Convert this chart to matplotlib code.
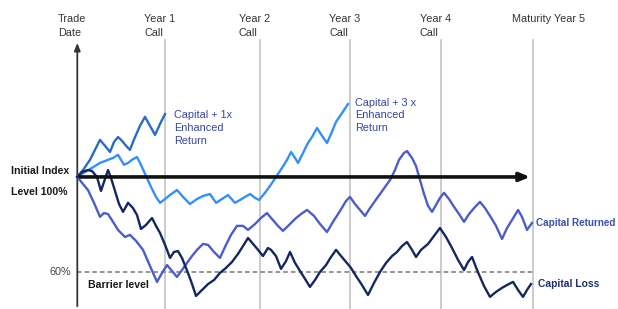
import numpy as np
import matplotlib.pyplot as plt

plt.rcParams['font.family'] = ['Liberation Sans', 'DejaVu Sans']

# time in years from trade date, index level in % of initial level
call_years = [0.963, 2.0, 2.995, 3.99, 5.0]
call_labels = ['Year 1\nCall', 'Year 2\nCall', 'Year 3\nCall', 'Year 4\nCall', 'Maturity Year 5']

# Capital + 1x enhanced return (called at year 1)
t_1x = [0, 0.063, 0.139, 0.194, 0.249, 0.304, 0.359, 0.403, 0.447, 0.491, 0.535,
        0.578, 0.611, 0.644, 0.688, 0.743, 0.798, 0.853, 0.908, 0.963]
lvl_1x = [100, 102.9, 107.2, 111.4, 115.6, 113.1, 110.5, 114.7, 116.8, 115.2, 113.1,
          111.4, 114.7, 117.7, 121.5, 125.3, 121.5, 117.7, 122.3, 126.5]

# Capital + 3x enhanced return (called at year 3)
t_3x = [0, 0.085, 0.161, 0.249, 0.337, 0.392, 0.447, 0.480, 0.513, 0.557, 0.600,
        0.655, 0.699, 0.754, 0.809, 0.864, 0.908, 0.963, 1.018, 1.094, 1.160,
        1.237, 1.314, 1.380, 1.457, 1.523, 1.588, 1.654, 1.731, 1.786, 1.841,
        1.896, 1.951, 1.995, 2.060, 2.115, 2.181, 2.247, 2.302, 2.346, 2.390,
        2.423, 2.478, 2.532, 2.576, 2.631, 2.686, 2.741, 2.785, 2.840, 2.906, 2.971]
lvl_3x = [100, 102.1, 103.8, 105.9, 107.2, 108.0, 109.3, 107.2, 105.1, 105.9, 107.2,
          108.4, 105.1, 100.4, 95.8, 91.6, 89.1, 90.7, 92.4, 94.5, 91.6,
          88.6, 90.7, 92.0, 92.8, 89.1, 90.7, 92.4, 89.1, 90.3, 91.6,
          92.8, 91.2, 90.3, 93.3, 96.2, 100.0, 103.8, 107.2, 110.5, 108.0,
          105.9, 110.1, 114.3, 116.8, 120.6, 117.3, 114.3, 118.1, 123.2, 126.9, 130.7]

# Capital returned at maturity
t_ret = [0, 0.052, 0.117, 0.183, 0.249, 0.293, 0.337, 0.392, 0.447, 0.524, 0.578,
         0.644, 0.721, 0.798, 0.875, 0.930, 0.985, 1.040, 1.094, 1.149, 1.204,
         1.259, 1.314, 1.380, 1.435, 1.501, 1.566, 1.632, 1.687, 1.753, 1.819,
         1.874, 1.951, 2.016, 2.082, 2.137, 2.203, 2.258, 2.335, 2.401, 2.456,
         2.521, 2.598, 2.664, 2.741, 2.807, 2.884, 2.950, 2.993, 3.048, 3.103,
         3.158, 3.213, 3.268, 3.323, 3.378, 3.433, 3.487, 3.531, 3.586, 3.619,
         3.674, 3.718, 3.762, 3.806, 3.850, 3.894, 3.937, 3.981, 4.025, 4.080,
         4.135, 4.190, 4.245, 4.300, 4.355, 4.420, 4.475, 4.530, 4.596, 4.662,
         4.717, 4.772, 4.838, 4.881, 4.936, 4.991]
lvl_ret = [100, 97.5, 94.5, 89.1, 83.2, 84.8, 84.4, 81.1, 77.7, 74.7, 75.6,
           73.1, 69.3, 62.5, 55.8, 59.6, 62.9, 60.4, 57.9, 60.8, 63.8,
           66.7, 69.3, 71.8, 71.4, 68.4, 65.9, 71.4, 75.6, 79.4, 79.4,
           77.7, 80.2, 82.7, 84.8, 82.3, 79.4, 77.3, 80.2, 82.7, 84.4,
           86.1, 83.6, 80.2, 76.8, 81.1, 85.7, 89.9, 91.6, 88.6, 86.1,
           83.6, 86.9, 89.9, 92.8, 95.8, 98.7, 102.9, 107.2, 110.1, 110.9,
           108.0, 104.6, 98.7, 92.8, 87.8, 85.3, 88.2, 91.2, 93.3, 90.7,
           87.4, 84.4, 81.1, 84.4, 86.9, 89.5, 86.9, 83.6, 79.4, 73.9,
           78.5, 81.9, 86.1, 83.2, 77.7, 80.6]

# Capital loss at maturity
t_loss = [0, 0.052, 0.117, 0.161, 0.216, 0.260, 0.293, 0.337, 0.370, 0.414, 0.458,
          0.502, 0.557, 0.611, 0.655, 0.699, 0.754, 0.820, 0.864, 0.908, 0.963,
          1.018, 1.061, 1.105, 1.149, 1.193, 1.248, 1.303, 1.369, 1.435, 1.501,
          1.566, 1.632, 1.698, 1.764, 1.819, 1.874, 1.929, 1.984, 2.038, 2.093,
          2.126, 2.181, 2.236, 2.291, 2.335, 2.390, 2.445, 2.499, 2.554, 2.609,
          2.664, 2.730, 2.785, 2.840, 2.895, 2.950, 3.004, 3.059, 3.125, 3.191,
          3.257, 3.323, 3.389, 3.455, 3.509, 3.564, 3.619, 3.674, 3.718, 3.773,
          3.850, 3.916, 3.981, 4.047, 4.113, 4.179, 4.245, 4.289, 4.333, 4.388,
          4.464, 4.530, 4.596, 4.662, 4.717, 4.783, 4.838, 4.892, 4.936, 4.980]
lvl_loss = [100, 102.1, 102.9, 102.5, 100.0, 94.1, 97.9, 102.9, 99.6, 94.1, 88.6,
            85.3, 89.1, 86.9, 84.0, 78.1, 79.8, 82.7, 79.4, 76.4, 71.4,
            65.9, 68.4, 68.8, 65.9, 61.7, 56.2, 49.9, 52.4, 54.9, 56.6,
            59.6, 61.7, 64.2, 67.6, 70.9, 74.3, 71.8, 69.3, 66.7, 70.1,
            69.3, 66.7, 61.3, 64.6, 68.4, 63.8, 60.4, 57.1, 53.7, 56.6,
            60.0, 62.9, 66.3, 69.3, 66.7, 64.2, 61.7, 58.3, 54.5, 50.3,
            55.4, 60.0, 63.8, 66.7, 68.4, 70.9, 72.6, 69.3, 66.3, 69.3,
            71.8, 75.2, 78.5, 74.7, 70.1, 65.1, 60.8, 64.2, 66.3, 60.8,
            54.1, 49.5, 51.6, 53.3, 54.5, 55.8, 52.4, 49.5, 52.4, 54.9]

initial_level = 100
barrier = 60

fig = plt.figure(figsize=(6.18, 3.09), dpi=100)
ax = fig.add_axes([0, 0, 1, 1])
ax.set_xlim(-0.8485, 5.935)
ax.set_ylim(44.4, 174.5)
ax.axis('off')

# call date lines
for t in call_years:
    ax.plot([t, t], [44.4, 157.5], color='#c8c8c8', lw=1.3, zorder=1)
for t, lab in zip(call_years, call_labels):
    ax.text(t - 0.23, 168.8, lab, fontsize=7.8, color='#333333', ha='left', va='top',
            linespacing=1.5)
ax.text(-0.21, 168.5, 'Trade\nDate', fontsize=7.8, color='#333333', ha='left', va='top',
        linespacing=1.5)

# axes arrows
ax.annotate('', xy=(0, 157.6), xytext=(0, 44.4),
            arrowprops=dict(arrowstyle='-|>,head_width=0.18,head_length=0.45',
                            color='#333333', lw=1.3))
ax.annotate('', xy=(5.0, initial_level), xytext=(0, initial_level),
            arrowprops=dict(arrowstyle='-|>,head_width=0.25,head_length=0.6',
                            color='#111111', lw=2.6), zorder=5)

# barrier
ax.plot([0, 5.0], [barrier, barrier], color='#777777', lw=1.1, ls=(0, (3, 2)), zorder=2)

ax.plot(t_1x, lvl_1x, color='#2a6cc4', lw=1.7, zorder=4)
ax.plot(t_3x, lvl_3x, color='#3390f5', lw=1.7, zorder=4)
ax.plot(t_ret, lvl_ret, color='#4b5dc8', lw=1.7, zorder=4)
ax.plot(t_loss, lvl_loss, color='#14285f', lw=1.7, zorder=4)

ax.text(1.06, 120.6, 'Capital + 1x\nEnhanced\nReturn', fontsize=7.8, color='#34469a',
        ha='left', va='center', linespacing=1.35)
ax.text(3.05, 125.9, 'Capital + 3 x\nEnhanced\nReturn', fontsize=7.8, color='#34469a',
        ha='left', va='center', linespacing=1.35)
ax.text(5.04, 80.6, 'Capital Returned', fontsize=7.1, color='#3c4fb0', fontweight='bold',
        ha='left', va='center')
ax.text(5.06, 54.9, 'Capital Loss', fontsize=7.4, color='#1e2f6e', fontweight='bold',
        ha='left', va='center')

ax.text(-0.73, 102.6, 'Initial Index', fontsize=7.6, fontweight='bold', color='#1a1a1a',
        ha='left', va='center')
ax.text(-0.725, 93.7, 'Level 100%', fontsize=7.6, fontweight='bold', color='#1a1a1a',
        ha='left', va='center')
ax.text(-0.07, barrier, '60%', fontsize=7.8, color='#444444', ha='right', va='center')
ax.text(0.12, 54.4, 'Barrier level', fontsize=7.6, fontweight='bold', color='#1a1a1a',
        ha='left', va='center')

fig.savefig('out.png', dpi=100)
